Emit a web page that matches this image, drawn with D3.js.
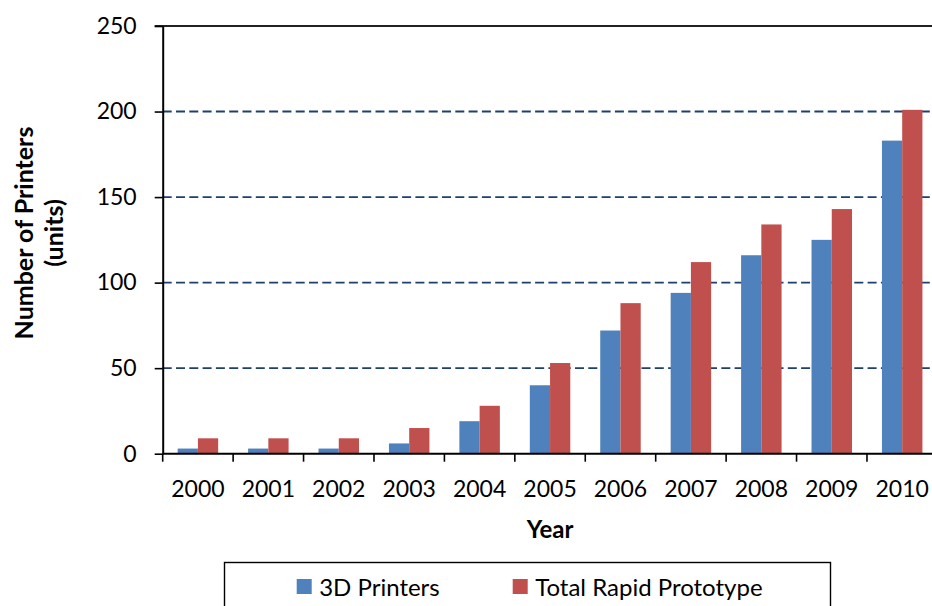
<!DOCTYPE html>
<html>
<head>
<meta charset="utf-8">
<script src="https://cdn.jsdelivr.net/npm/d3@7"></script>
<style>
  body { margin: 0; background: #fff; }
  svg { display: block; font-family: Lato, "Open Sans", sans-serif; }
</style>
</head>
<body>
<svg id="chart" width="932" height="606"></svg>
<script>
// chart values
var years = ['2000', '2001', '2002', '2003', '2004', '2005', '2006', '2007', '2008', '2009', '2010'];
var seriesNames = ['3D Printers', 'Total Rapid Prototype'];
var printers3d = [3, 3, 3, 6, 19, 40, 72, 94, 116, 125, 183];
var rapidProto = [9, 9, 9, 15, 28, 53, 88, 112, 134, 143, 201];
var yTicks = [0, 50, 100, 150, 200, 250];
var colors = ['#4F81BD', '#C0504D'];

var svg = d3.select('#chart');
var plotL = 162.7, plotR = 937.4, plotT = 26, plotB = 453.7;

var x = d3.scaleBand().domain(years).range([plotL, plotR]).padding(0);
var x1 = d3.scaleBand().domain(seriesNames).range([0, x.bandwidth()]).paddingInner(0).paddingOuter(0.74);
var y = d3.scaleLinear().domain([0, 250]).range([plotB, plotT]);

// dashed gridlines
svg.append('g').selectAll('line')
    .data(yTicks.filter(function (d) { return d > 0 && d < 250; }))
    .enter().append('line')
    .attr('x1', plotL).attr('x2', 932)
    .attr('y1', function (d) { return y(d); })
    .attr('y2', function (d) { return y(d); })
    .attr('stroke', '#1F3F6E')
    .attr('stroke-width', 1.9)
    .attr('stroke-dasharray', '9,4.3');

// top border of plot area
svg.append('line')
    .attr('x1', plotL - 8).attr('x2', 932)
    .attr('y1', y(250)).attr('y2', y(250))
    .attr('stroke', '#222').attr('stroke-width', 1.8);

// bars
var rows = years.map(function (yr, i) {
    return {year: yr, values: [printers3d[i], rapidProto[i]]};
});
var grp = svg.append('g').selectAll('g')
    .data(rows)
    .enter().append('g')
    .attr('transform', function (d) { return 'translate(' + x(d.year) + ',0)'; });

grp.selectAll('rect')
    .data(function (d) {
        return d.values.map(function (v, j) { return {name: seriesNames[j], value: v, idx: j}; });
    })
    .enter().append('rect')
    .attr('x', function (d) { return x1(d.name); })
    .attr('width', x1.bandwidth())
    .attr('y', function (d) { return y(d.value); })
    .attr('height', function (d) { return plotB - y(d.value); })
    .attr('fill', function (d) { return colors[d.idx]; });

// y axis
var yAxis = svg.append('g')
    .attr('transform', 'translate(' + plotL + ',0)')
    .call(d3.axisLeft(y).tickValues(yTicks).tickSize(8).tickPadding(18).tickSizeOuter(0));
yAxis.select('.domain').attr('stroke', '#000').attr('stroke-width', 2);
yAxis.selectAll('.tick line').attr('stroke', '#000').attr('stroke-width', 1.6);
yAxis.selectAll('.tick text').attr('font-size', 23).attr('fill', '#000')
    .attr('font-family', 'Lato, "Open Sans", sans-serif');

// x axis: baseline, ticks at category boundaries, labels at centres
var xg = svg.append('g');
xg.append('line')
    .attr('x1', plotL).attr('x2', 932)
    .attr('y1', plotB).attr('y2', plotB)
    .attr('stroke', '#000').attr('stroke-width', 2);
xg.selectAll('line.tk')
    .data(years)
    .enter().append('line')
    .attr('class', 'tk')
    .attr('x1', function (d) { return x(d); })
    .attr('x2', function (d) { return x(d); })
    .attr('y1', plotB).attr('y2', plotB + 8)
    .attr('stroke', '#000').attr('stroke-width', 1.6);
xg.selectAll('text')
    .data(years)
    .enter().append('text')
    .attr('x', function (d) { return x(d) + x.bandwidth() / 2; })
    .attr('y', 497)
    .attr('text-anchor', 'middle')
    .attr('font-size', 23)
    .text(function (d) { return d; });

// axis titles
svg.append('text')
    .attr('x', (plotL + plotR) / 2).attr('y', 538)
    .attr('text-anchor', 'middle')
    .attr('font-size', 24).attr('font-weight', 'bold')
    .text('Year');

var yt = svg.append('text')
    .attr('transform', 'translate(39,233) rotate(-90)')
    .attr('text-anchor', 'middle')
    .attr('font-size', 25).attr('font-weight', 'bold');
yt.append('tspan').attr('x', 0).attr('dy', '-0.25em').text('Number of Printers');
yt.append('tspan').attr('x', 0).attr('dy', '1.2em').text('(units)');

// legend
var lg = svg.append('g');
lg.append('rect')
    .attr('x', 224.5).attr('y', 562.5)
    .attr('width', 606).attr('height', 60)
    .attr('fill', '#fff').attr('stroke', '#000').attr('stroke-width', 1.4);

var items = lg.selectAll('g.item')
    .data(seriesNames)
    .enter().append('g').attr('class', 'item');
items.append('rect')
    .attr('width', 15).attr('height', 15)
    .attr('y', 579)
    .attr('fill', function (d, i) { return colors[i]; });
items.append('text')
    .attr('y', 596)
    .attr('font-size', 24)
    .text(function (d) { return d; });

var cursor = 296.7;
items.each(function () {
    var g = d3.select(this);
    g.select('rect').attr('x', cursor);
    g.select('text').attr('x', cursor + 22.5);
    cursor += 22.5 + g.select('text').node().getComputedTextLength() + 73;
});
</script>
</body>
</html>
